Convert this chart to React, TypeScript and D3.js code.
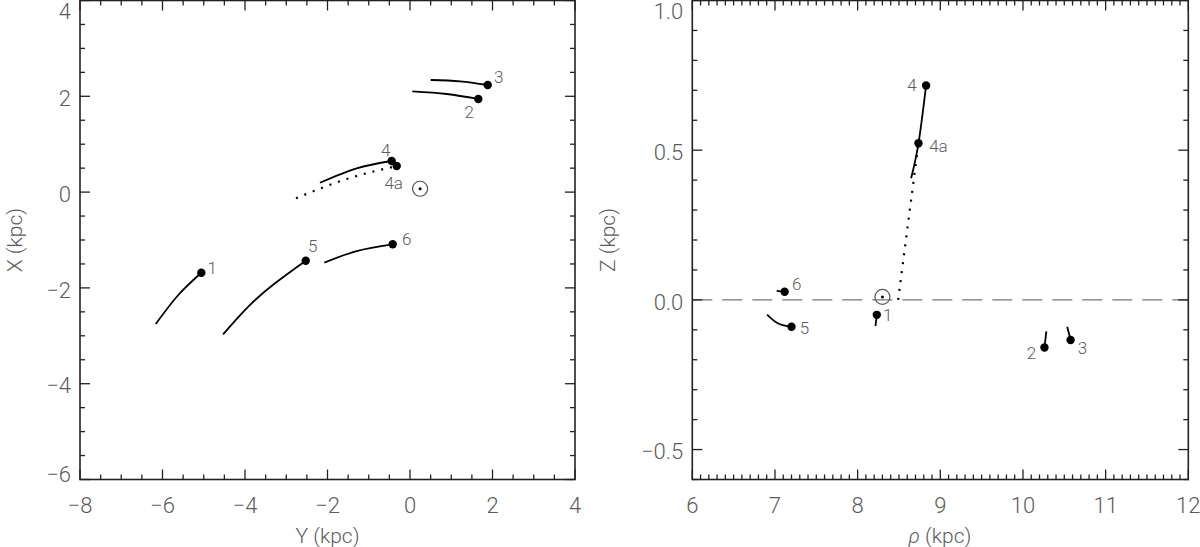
import React from "react";
import * as d3 from "d3";

const width = 1200;
const height = 547;

// axis domains
const yDomain = [-8, 4]; // horizontal of left panel (Y, kpc)
const xDomain = [-6, 4]; // vertical of left panel (X, kpc)
const rhoDomain = [6, 12];
const zDomain = [-0.6, 1.0];

// sun position
const sunXY = [0.245, 0.07];
const sunRZ = [8.3, 0.01];

// left panel tracks, [Y, X] pairs, the present position is the last point
const xy1 = [[-6.165, -2.754], [-5.617, -2.148], [-5.059, -1.683]];
const xy2 = [[0.056, 2.104], [0.89, 2.048], [1.656, 1.944]];
const xy3 = [[0.502, 2.34], [1.212, 2.313], [1.884, 2.236]];
const xy4 = [[-2.182, 0.196], [-1.292, 0.497], [-0.444, 0.649]];
const xy4a = [[-2.764, -0.129], [-1.535, 0.273], [-0.322, 0.545]];
const xy5 = [[-4.531, -2.969], [-3.92, -2.39], [-3.273, -1.904], [-2.528, -1.432]];
const xy6 = [[-2.077, -1.474], [-1.292, -1.23], [-0.419, -1.09]];

// right panel tracks, [rho, Z] pairs
const rz1 = [[8.216, -0.088], [8.232, -0.05]];
const rz2 = [[10.283, -0.105], [10.26, -0.159]];
const rz3 = [[10.535, -0.09], [10.576, -0.134]];
const rz4 = [[8.647, 0.406], [8.736, 0.523], [8.828, 0.716]];
const rz4a = [[8.49, 0.0], [8.736, 0.523]];
const rz5 = [[6.905, -0.049], [7.04, -0.079], [7.2, -0.09]];
const rz6 = [[7.02, 0.03], [7.117, 0.027]];

const tracksXY = [
  { name: "1", pts: xy1, dotted: false },
  { name: "2", pts: xy2, dotted: false },
  { name: "3", pts: xy3, dotted: false },
  { name: "4", pts: xy4, dotted: false },
  { name: "4a", pts: xy4a, dotted: true },
  { name: "5", pts: xy5, dotted: false },
  { name: "6", pts: xy6, dotted: false },
];
const tracksRZ = [
  { name: "1", pts: rz1, dotted: false },
  { name: "2", pts: rz2, dotted: false },
  { name: "3", pts: rz3, dotted: false },
  { name: "4", pts: rz4, dotted: false },
  { name: "4a", pts: rz4a, dotted: true },
  { name: "5", pts: rz5, dotted: false },
  { name: "6", pts: rz6, dotted: false },
];
const dotsRZ = [rz1[1], rz2[1], rz3[1], rz4[2], rz4[1], rz5[2], rz6[1]];

// label offsets from the dot, in px
const labelOffXY = {
  "1": [11, -5], "2": [-9, 13], "3": [11, -8], "4": [-6, -11],
  "4a": [-3, 17], "5": [7, -15], "6": [14, -5],
};
const labelRZ = [
  { name: "1", at: rz1[1], off: [11, 0] },
  { name: "2", at: rz2[1], off: [-13, 6] },
  { name: "3", at: rz3[1], off: [12, 8] },
  { name: "4", at: rz4[2], off: [-14, 0] },
  { name: "4a", at: rz4[1], off: [20, 3] },
  { name: "5", at: rz5[2], off: [13, 1] },
  { name: "6", at: rz6[1], off: [12, -8] },
];

const font = "Roboto, 'DejaVu Sans', sans-serif";
const textColor = "#5c5c5c";
const axisColor = "#222";

const fmtInt = (d) => (d < 0 ? "\u2212" + Math.abs(d) : String(d));
const fmtDec = (d) => (d < 0 ? "\u2212" + Math.abs(d).toFixed(1) : d.toFixed(1));

const Frame = ({ sx, sy, xMinor, xMajor, yMinor, yMajor, fmtX, fmtY }) => {
  const [x0, x1] = sx.range();
  const [y1, y0] = sy.range();
  return (
    <g>
      {xMinor.map((v) => {
        const major = xMajor.some((m) => Math.abs(m - v) < 1e-9);
        const l = major ? 10 : 5;
        return (
          <g key={"x" + v}>
            <line x1={sx(v)} x2={sx(v)} y1={y1} y2={y1 - l} stroke={axisColor} strokeWidth={1.3} />
            <line x1={sx(v)} x2={sx(v)} y1={y0} y2={y0 + l} stroke={axisColor} strokeWidth={1.3} />
          </g>
        );
      })}
      {yMinor.map((v) => {
        const major = yMajor.some((m) => Math.abs(m - v) < 1e-9);
        const l = major ? 10 : 5;
        return (
          <g key={"y" + v}>
            <line x1={x0} x2={x0 + l} y1={sy(v)} y2={sy(v)} stroke={axisColor} strokeWidth={1.3} />
            <line x1={x1} x2={x1 - l} y1={sy(v)} y2={sy(v)} stroke={axisColor} strokeWidth={1.3} />
          </g>
        );
      })}
      <rect x={x0} y={y0} width={x1 - x0} height={y1 - y0} fill="none" stroke={axisColor} strokeWidth={1.6} />
      {xMajor.map((v) => (
        <text key={"xl" + v} x={sx(v)} y={505} dy="0.35em" textAnchor="middle"
          fontSize={22} fontWeight={300} fill={textColor} fontFamily={font}>
          {fmtX(v)}
        </text>
      ))}
      {yMajor.map((v) => (
        <text key={"yl" + v} x={x0 - 9} y={Math.min(474, Math.max(11, sy(v) + 2))} dy="0.35em"
          textAnchor="end" fontSize={22} fontWeight={300} fill={textColor} fontFamily={font}>
          {fmtY(v)}
        </text>
      ))}
    </g>
  );
};

const Sun = ({ cx, cy }) => (
  <g>
    <circle cx={cx} cy={cy} r={7.5} fill="none" stroke="#555" strokeWidth={1.2} />
    <circle cx={cx} cy={cy} r={1.5} fill="#000" />
  </g>
);

const App = () => {
  // left panel scales
  const sxL = d3.scaleLinear().domain(yDomain).range([80, 575]);
  const syL = d3.scaleLinear().domain(xDomain).range([479.5, 0.5]);
  // right panel scales
  const sxR = d3.scaleLinear().domain(rhoDomain).range([692.3, 1188.3]);
  const syR = d3.scaleLinear().domain(zDomain).range([479.5, 0.5]);

  const lineL = d3.line().x((d) => sxL(d[0])).y((d) => syL(d[1])).curve(d3.curveNatural);
  const lineR = d3.line().x((d) => sxR(d[0])).y((d) => syR(d[1])).curve(d3.curveNatural);

  return (
    <svg width={width} height={height} style={{ position: "absolute", left: 0, top: 0, background: "#fff" }}>
      {/* left panel: X vs Y */}
      <Frame
        sx={sxL} sy={syL}
        xMinor={sxL.ticks(24)} xMajor={sxL.ticks(6)}
        yMinor={syL.ticks(20)} yMajor={syL.ticks(5)}
        fmtX={fmtInt} fmtY={fmtInt}
      />
      {tracksXY.map((t) => (
        <path key={"lt" + t.name} d={lineL(t.pts)} fill="none" stroke="#000"
          strokeWidth={t.dotted ? 2.2 : 1.8} strokeDasharray={t.dotted ? "2,7" : null} />
      ))}
      {tracksXY.map((t) => {
        const p = t.pts[t.pts.length - 1];
        const [dx, dy] = labelOffXY[t.name];
        return (
          <g key={"ld" + t.name}>
            <circle cx={sxL(p[0])} cy={syL(p[1])} r={4.2} fill="#000" />
            <text x={sxL(p[0]) + dx} y={syL(p[1]) + dy} dy="0.35em" textAnchor="middle"
              fontSize={17} fontWeight={300} fill={textColor} fontFamily={font}>
              {t.name}
            </text>
          </g>
        );
      })}
      <Sun cx={sxL(sunXY[0])} cy={syL(sunXY[1])} />
      <text x={327.5} y={536} dy="0.35em" textAnchor="middle" fontSize={21} fontWeight={300}
        fill={textColor} fontFamily={font}>Y (kpc)</text>
      <text transform="translate(15,240) rotate(-90)" dy="0.35em" textAnchor="middle" fontSize={21}
        fontWeight={300} fill={textColor} fontFamily={font}>X (kpc)</text>

      {/* right panel: Z vs rho */}
      <line x1={sxR(rhoDomain[0])} x2={sxR(rhoDomain[1])} y1={syR(0)} y2={syR(0)}
        stroke="#777" strokeWidth={1.3} strokeDasharray="20,10" />
      <Frame
        sx={sxR} sy={syR}
        xMinor={sxR.ticks(60)} xMajor={sxR.ticks(6)}
        yMinor={syR.ticks(16)} yMajor={syR.ticks(3)}
        fmtX={fmtInt} fmtY={fmtDec}
      />
      {tracksRZ.map((t) => (
        <path key={"rt" + t.name} d={lineR(t.pts)} fill="none" stroke="#000"
          strokeWidth={t.dotted ? 2.2 : 1.8} strokeDasharray={t.dotted ? "2,7" : null} />
      ))}
      {dotsRZ.map((p, i) => (
        <circle key={"rd" + i} cx={sxR(p[0])} cy={syR(p[1])} r={4.2} fill="#000" />
      ))}
      {labelRZ.map((l) => (
        <text key={"rl" + l.name} x={sxR(l.at[0]) + l.off[0]} y={syR(l.at[1]) + l.off[1]} dy="0.35em"
          textAnchor="middle" fontSize={17} fontWeight={300} fill={textColor} fontFamily={font}>
          {l.name}
        </text>
      ))}
      <Sun cx={sxR(sunRZ[0])} cy={syR(sunRZ[1])} />
      <text x={940} y={536} dy="0.35em" textAnchor="middle" fontSize={21} fontWeight={300}
        fill={textColor} fontFamily={font}>
        <tspan fontStyle="italic">ρ</tspan> (kpc)
      </text>
      <text transform="translate(608,240) rotate(-90)" dy="0.35em" textAnchor="middle" fontSize={21}
        fontWeight={300} fill={textColor} fontFamily={font}>Z (kpc)</text>
    </svg>
  );
};

export default App;
